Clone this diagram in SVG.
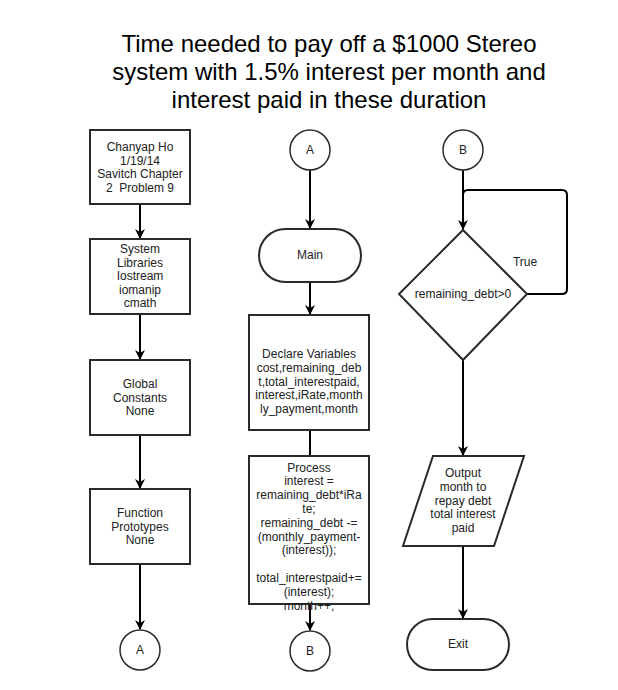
<svg xmlns="http://www.w3.org/2000/svg" width="618" height="690" viewBox="0 0 618 690">
<defs>
<style>
.t{font-family:"Liberation Sans",Arial,sans-serif;font-size:12px;fill:#222;text-anchor:middle}
.title{font-family:"Liberation Sans",Arial,sans-serif;font-size:24px;fill:#000;text-anchor:middle}
.shape{fill:#fff;stroke:#2a2a2a;stroke-width:2}
.circ{fill:#fff;stroke:#2a2a2a;stroke-width:1.5}
.conn{fill:none;stroke:#000;stroke-width:2}
</style>
<marker id="arr" viewBox="0 0 10 10" refX="9" refY="5" markerWidth="5" markerHeight="5" orient="auto" markerUnits="strokeWidth">
<path d="M0,0 L10,5 L0,10 L3,5 Z" fill="#000"/>
</marker>
</defs>
<rect width="618" height="690" fill="#fff"/>
<g id="title">
<text class="title" x="329" y="52">Time needed to pay off a $1000 Stereo</text>
<text class="title" x="329" y="80">system with 1.5% interest per month and</text>
<text class="title" x="329" y="108">interest paid in these duration</text>
</g>
<g id="connectors">
<line class="conn" x1="140" y1="204" x2="140" y2="238" marker-end="url(#arr)"/>
<line class="conn" x1="140" y1="315" x2="140" y2="359" marker-end="url(#arr)"/>
<line class="conn" x1="140" y1="436" x2="140" y2="488" marker-end="url(#arr)"/>
<line class="conn" x1="140" y1="565" x2="140" y2="629" marker-end="url(#arr)"/>
<line class="conn" x1="310" y1="170" x2="310" y2="228" marker-end="url(#arr)"/>
<line class="conn" x1="310" y1="282" x2="310" y2="314" marker-end="url(#arr)"/>
<line class="conn" x1="310" y1="431" x2="310" y2="456"/>
<line class="conn" x1="310" y1="605" x2="310" y2="630" marker-end="url(#arr)"/>
<line class="conn" x1="463" y1="170" x2="463" y2="229" marker-end="url(#arr)"/>
<path class="conn" d="M527,294 H562 Q567,294 567,289 V195 Q567,190 562,190 H468 Q463,190 463,195 V229" stroke="#2a2a2a"/>
<line class="conn" x1="463" y1="360" x2="463" y2="455" marker-end="url(#arr)"/>
<line class="conn" x1="463" y1="547" x2="463" y2="618" marker-end="url(#arr)"/>
</g>
<g id="n_author">
<rect class="shape" x="90" y="130" width="100" height="74"/>
<text class="t" x="140" y="151">Chanyap Ho</text>
<text class="t" x="140" y="164.5">1/19/14</text>
<text class="t" x="140" y="178">Savitch Chapter</text>
<text class="t" x="140" y="191.5" xml:space="preserve">2  Problem 9</text>
</g>
<g id="n_libraries">
<rect class="shape" x="90" y="239" width="100" height="75"/>
<text class="t" x="140" y="253">System</text>
<text class="t" x="140" y="266.5">Libraries</text>
<text class="t" x="140" y="280">Iostream</text>
<text class="t" x="140" y="293.5">iomanip</text>
<text class="t" x="140" y="307">cmath</text>
</g>
<g id="n_constants">
<rect class="shape" x="90" y="360" width="100" height="75"/>
<text class="t" x="140" y="388">Global</text>
<text class="t" x="140" y="401.5">Constants</text>
<text class="t" x="140" y="415">None</text>
</g>
<g id="n_prototypes">
<rect class="shape" x="90" y="489" width="100" height="75"/>
<text class="t" x="140" y="517">Function</text>
<text class="t" x="140" y="530.5">Prototypes</text>
<text class="t" x="140" y="544">None</text>
</g>
<g id="n_A1">
<circle class="circ" cx="140" cy="650" r="20"/>
<text class="t" x="140" y="654">A</text>
</g>
<g id="n_A2">
<circle class="circ" cx="310" cy="150" r="20"/>
<text class="t" x="310" y="154">A</text>
</g>
<g id="n_main">
<rect class="shape" x="259" y="229" width="102" height="53" rx="26.5" ry="26.5"/>
<text class="t" x="310" y="259">Main</text>
</g>
<g id="n_declare">
<rect class="shape" x="249" y="315" width="120" height="115"/>
<text class="t" x="309" y="358">Declare Variables</text>
<text class="t" x="309" y="371.8">cost,remaining_deb</text>
<text class="t" x="309" y="385.6">t,total_interestpaid,</text>
<text class="t" x="309" y="399.4">interest,iRate,month</text>
<text class="t" x="309" y="413.2">ly_payment,month</text>
</g>
<g id="n_process">
<rect class="shape" x="249" y="456" width="120" height="148"/>
<text class="t" x="309" y="471.5">Process</text>
<text class="t" x="309" y="485.3">interest =</text>
<text class="t" x="309" y="499.1">remaining_debt*iRa</text>
<text class="t" x="309" y="512.9">te;</text>
<text class="t" x="309" y="526.7">remaining_debt -=</text>
<text class="t" x="309" y="540.5">(monthly_payment-</text>
<text class="t" x="309" y="554.3">(interest));</text>
<text class="t" x="309" y="581.9">total_interestpaid+=</text>
<text class="t" x="309" y="595.7">(interest);</text>
<text class="t" x="309" y="609.5">month++;</text>
</g>
<g id="n_B1">
<circle class="circ" cx="310" cy="651" r="20"/>
<text class="t" x="310" y="655">B</text>
</g>
<g id="n_B2">
<circle class="circ" cx="463" cy="150" r="20"/>
<text class="t" x="463" y="154">B</text>
</g>
<g id="n_decision">
<polygon class="shape" points="463,230 527,294 463,360 399,294"/>
<text class="t" x="463" y="298">remaining_debt&gt;0</text>
<text class="t" x="525" y="266">True</text>
</g>
<g id="n_output">
<polygon class="shape" points="433,456 524,456 494,546 403,546"/>
<text class="t" x="463" y="477">Output</text>
<text class="t" x="463" y="490.8">month to</text>
<text class="t" x="463" y="504.6">repay debt</text>
<text class="t" x="463" y="518.4">total interest</text>
<text class="t" x="463" y="532.2">paid</text>
</g>
<g id="n_exit">
<rect class="shape" x="407" y="619" width="102" height="51" rx="25.5" ry="25.5"/>
<text class="t" x="458" y="648">Exit</text>
</g>
</svg>
